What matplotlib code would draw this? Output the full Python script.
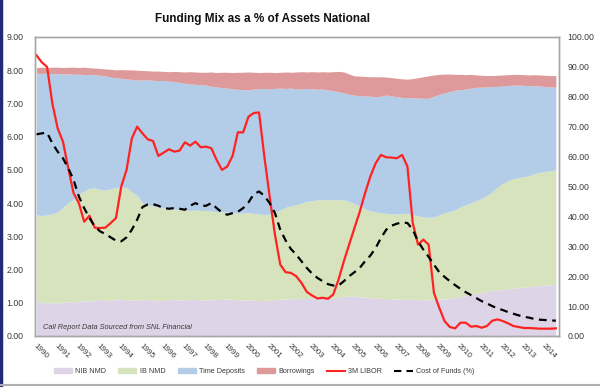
import numpy as np
import matplotlib.pyplot as plt
from matplotlib.patches import Patch
from matplotlib.lines import Line2D

plt.rcParams['font.family'] = ['Liberation Sans', 'DejaVu Sans']

# quarterly, 1990Q1 .. 2014Q3
years = np.arange(99) * 0.25 + 1990

# 3M LIBOR (%), left axis
libor = [8.45, 8.24, 8.10, 7.00, 6.25, 5.85, 5.05, 4.30,
         4.00, 3.44, 3.62, 3.26, 3.25, 3.26, 3.40, 3.55,
         4.50, 5.00, 5.95, 6.30, 6.10, 5.92, 5.87, 5.42,
         5.52, 5.62, 5.55, 5.58, 5.83, 5.73, 5.85, 5.68,
         5.70, 5.65, 5.30, 5.00, 5.10, 5.42, 6.13, 6.13,
         6.60, 6.71, 6.73, 5.40, 4.20, 3.05, 2.15, 1.92,
         1.90, 1.80, 1.60, 1.33, 1.22, 1.13, 1.15, 1.12,
         1.25, 1.70, 2.25, 2.75, 3.25, 3.74, 4.30, 4.80,
         5.20, 5.45, 5.38, 5.37, 5.35, 5.45, 5.10, 3.40,
         2.75, 2.90, 2.75, 1.30, 0.85, 0.45, 0.27, 0.23,
         0.40, 0.40, 0.28, 0.30, 0.25, 0.30, 0.46, 0.50,
         0.45, 0.38, 0.30, 0.27, 0.24, 0.24, 0.23, 0.22,
         0.22, 0.22, 0.23]

# Cost of funds (%), left axis
cost = [6.07, 6.10, 6.12, 5.80, 5.55, 5.35, 5.05, 4.70,
        4.20, 3.85, 3.55, 3.30, 3.15, 3.07, 2.97, 2.87,
        2.85, 2.97, 3.20, 3.50, 3.88, 3.96, 3.97, 3.92,
        3.85, 3.83, 3.85, 3.83, 3.80, 3.92, 4.00, 3.92,
        3.92, 4.00, 3.85, 3.72, 3.65, 3.70, 3.74, 3.85,
        4.02, 4.27, 4.35, 4.22, 4.00, 3.70, 3.20, 2.88,
        2.62, 2.45, 2.25, 2.05, 1.88, 1.75, 1.65, 1.56,
        1.52, 1.52, 1.65, 1.80, 1.92, 2.05, 2.25, 2.42,
        2.65, 2.95, 3.20, 3.32, 3.38, 3.42, 3.40, 3.20,
        2.85, 2.60, 2.38, 2.15, 1.92, 1.78, 1.65, 1.53,
        1.42, 1.32, 1.23, 1.14, 1.05, 0.98, 0.90, 0.83,
        0.78, 0.72, 0.67, 0.62, 0.58, 0.55, 0.51, 0.49,
        0.48, 0.47, 0.46]

# funding mix, % of assets (cumulative tops of each band), right axis
nib_nmd = [11.5, 11.3, 11.0, 11.2, 11.0, 11.3, 11.5, 11.4,
           11.6, 11.8, 11.7, 12.0, 12.2, 12.0, 11.8, 12.3,
           12.4, 12.1, 12.0, 11.9, 12.0, 12.2, 12.0, 11.8,
           11.9, 12.1, 12.2, 12.0, 12.1, 12.3, 12.2, 12.1,
           12.0, 12.1, 12.3, 12.2, 12.4, 12.2, 12.1, 12.0,
           12.1, 12.0, 11.8, 11.9, 12.0, 12.2, 12.3, 12.4,
           12.5, 12.4, 12.6, 12.5, 12.7, 12.8, 12.6, 12.5,
           12.6, 12.9, 13.2, 13.4, 13.3, 13.1, 13.0, 12.8,
           12.7, 12.6, 12.5, 12.4, 12.4, 12.3, 12.2, 12.3,
           12.2, 12.0, 12.1, 12.2, 12.3, 12.4, 12.6, 12.9,
           13.2, 13.5, 13.8, 14.2, 14.5, 14.9, 15.2, 15.4,
           15.6, 15.8, 16.0, 16.2, 16.4, 16.5, 16.7, 16.9,
           17.0, 17.1, 17.3]

ib_nmd_top = [40.5, 40.3, 40.5, 40.8, 41.5, 43.0, 44.6, 45.8,
              47.5, 48.5, 49.4, 49.5, 49.0, 48.8, 49.2, 49.6,
              49.8, 49.6, 48.2, 47.0, 44.5, 43.8, 43.4, 43.1,
              42.8, 42.6, 42.4, 42.3, 42.1, 42.0, 42.1, 42.0,
              41.9, 41.8, 41.6, 41.5, 41.5, 41.3, 41.2, 41.1,
              41.2, 41.0, 40.8, 40.6, 40.8, 41.3, 42.1, 43.0,
              43.5, 43.9, 44.4, 45.0, 45.3, 45.5, 45.6, 45.6,
              45.6, 45.6, 45.5, 45.0, 44.2, 43.5, 42.5, 41.8,
              41.5, 41.2, 41.0, 40.8, 40.8, 41.0, 41.0, 40.6,
              40.2, 39.8, 39.7, 39.8, 40.5, 41.2, 41.6, 42.2,
              43.2, 43.8, 44.6, 45.3, 46.0, 47.0, 48.2, 49.8,
              51.0, 52.0, 52.6, 53.0, 53.3, 53.6, 54.3, 54.8,
              55.0, 55.3, 55.5]

time_dep_top = [87.9, 87.8, 87.9, 87.7, 87.8, 87.6, 87.7, 87.5,
                87.6, 87.4, 87.5, 87.3, 87.2, 87.0, 86.6, 86.3,
                86.2, 86.0, 85.8, 85.6, 85.6, 85.7, 85.5, 85.4,
                85.5, 85.2, 85.1, 84.8, 84.5, 84.3, 84.2, 84.0,
                83.9, 83.5, 83.3, 83.0, 82.9, 82.7, 82.5, 82.4,
                82.3, 82.6, 82.7, 82.8, 82.6, 82.8, 82.9, 82.8,
                82.9, 82.7, 82.6, 82.8, 82.7, 82.5, 82.6, 82.3,
                82.0, 81.7, 81.3, 80.8, 80.5, 80.4, 80.3, 80.2,
                80.0, 80.2, 80.6, 80.3, 80.0, 79.8, 79.6, 79.7,
                79.6, 79.5, 79.5, 80.2, 80.8, 81.3, 81.8, 82.2,
                82.3, 82.6, 82.9, 83.2, 83.2, 83.3, 83.4, 83.5,
                83.6, 83.8, 83.9, 83.9, 83.8, 83.7, 83.7, 83.6,
                83.4, 83.3, 83.2]

borrow_top = [89.8, 89.9, 89.8, 89.9, 89.9, 89.8, 89.9, 89.9,
              89.8, 89.9, 89.7, 89.6, 89.5, 89.3, 89.2, 89.0,
              89.1, 89.0, 89.0, 88.9, 88.8, 88.7, 88.6, 88.6,
              88.5, 88.4, 88.5, 88.4, 88.3, 88.4, 88.3, 88.2,
              88.2, 88.3, 88.1, 88.2, 88.2, 88.1, 88.2, 88.2,
              88.3, 88.2, 88.1, 88.2, 88.2, 88.1, 88.2, 88.3,
              88.2, 88.3, 88.4, 88.3, 88.4, 88.3, 88.4, 88.3,
              88.4, 88.5, 88.3, 87.6, 87.0, 86.9, 86.8, 86.7,
              86.7, 86.7, 86.6, 86.4, 86.2, 86.0, 85.9, 86.1,
              86.4, 86.7, 87.0, 87.3, 87.5, 87.6, 87.6, 87.5,
              87.5, 87.4, 87.5, 87.3, 87.2, 87.1, 87.1, 87.2,
              87.3, 87.4, 87.5, 87.5, 87.4, 87.3, 87.4, 87.3,
              87.2, 87.1, 87.1]

tick_years = list(range(1990, 2015))

c_nib = '#ddd5e7'
c_ib = '#d7e3bd'
c_td = '#b3cde9'
c_bor = '#de9a9a'
c_libor = '#ff2222'
txt = '#3a3a3a'

fig = plt.figure(figsize=(6, 3.87), dpi=100)
ax = fig.add_axes([0.0583, 0.1318, 0.8734, 0.7726])
ax2 = ax.twinx()

# areas on the percent scale (shown on the right)
ax.fill_between(years, 0, nib_nmd, color=c_nib, lw=0)
ax.fill_between(years, nib_nmd, ib_nmd_top, color=c_ib, lw=0)
ax.fill_between(years, ib_nmd_top, time_dep_top, color=c_td, lw=0)
ax.fill_between(years, time_dep_top, borrow_top, color=c_bor, lw=0)
ax.set_ylim(0, 100)
ax.set_yticks(np.arange(0, 101, 10))
ax.yaxis.set_major_formatter(plt.FormatStrFormatter('%.2f'))

# rates on the left scale
ax2.plot(years, libor, color=c_libor, lw=1.6)
ax2.plot(years, cost, color='black', lw=1.6, dashes=(3.5, 2.5))
ax2.set_ylim(0, 9)
ax2.set_yticks(np.arange(0, 9.01, 1))
ax2.yaxis.set_major_formatter(plt.FormatStrFormatter('%.2f'))

ax.yaxis.tick_right()
ax2.yaxis.tick_left()

ax.set_xlim(1989.93, 2014.65)
ax.set_xticks(tick_years)
ax.set_xticklabels([str(y) for y in tick_years], rotation=-45, ha='left',
                   va='top', rotation_mode='anchor')

for a in (ax, ax2):
    a.tick_params(axis='both', length=0, labelsize=6.3, colors=txt)
    for s in a.spines.values():
        s.set_color('#a6a6a6')
        s.set_linewidth(1.0)
ax.tick_params(axis='y', pad=6)
ax2.tick_params(axis='y', pad=8)
ax.tick_params(axis='x', pad=5, labelsize=5.8)

ax.text(0.015, 0.03, 'Call Report Data Sourced from SNL Financial',
        transform=ax.transAxes, fontsize=5.3, style='italic', color=txt,
        va='center', ha='left')

fig.text(0.437, 0.952, 'Funding Mix as a % of Assets National',
         ha='center', va='center', fontsize=8.5, fontweight='bold',
         color='#111111')

handles = [Patch(color=c_nib, label='NIB NMD'),
           Patch(color=c_ib, label='IB NMD'),
           Patch(color=c_td, label='Time Deposits'),
           Patch(color=c_bor, label='Borrowings'),
           Line2D([], [], color=c_libor, lw=1.5, label='3M LIBOR'),
           Line2D([], [], color='black', lw=1.5, dashes=(3.5, 2.5),
                  label='Cost of Funds (%)')]
leg = fig.legend(handles=handles, loc='center', bbox_to_anchor=(0.44, 0.04),
                 ncol=6, frameon=False, handlelength=2.5,
                 handleheight=0.6, handletextpad=0.45, columnspacing=1.7,
                 fontsize=5.2)
for t in leg.get_texts():
    t.set_color(txt)

# frame edges of the original slide
fig.add_artist(Line2D([0.002, 0.002], [0, 1], color='#1f2a7a', lw=2.5))
fig.add_artist(Line2D([0, 1], [0.006, 0.006], color='#b0b0b0', lw=1.5))

fig.savefig('out.png', dpi=100)
